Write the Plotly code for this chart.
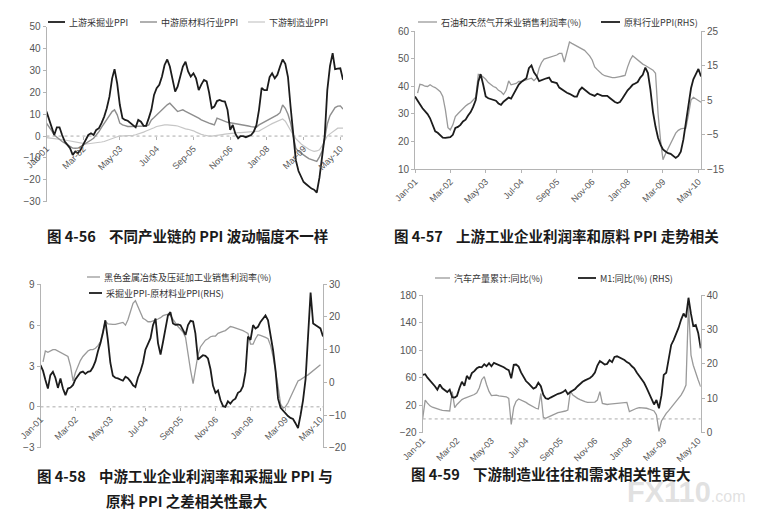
import pandas as pd
import plotly.graph_objects as go

months = pd.date_range("2001-01-01", periods=114, freq="MS")

# 图4-56  PPI by chain segment (%)
upstream_ppi = [
    11.2, 7.4, 3.6, 0.5, 4, 4, 0.5, -2.5, -4, -5.5, -8.6, -7,
    -7.8, -6.3, -4, -1.7, 0.5, 1.3, 0.5, 2.8, 3.6, 5.9, 8.9, 12.7,
    18, 26.4, 30.6, 24, 14.3, 8.2, 7.4, 7, 5.9, 4.7, 4, 7.4,
    6.6, 4.7, 4.7, 8.2, 12, 18.8, 21.9, 23.4, 27.2, 32.5, 35, 31.8,
    25.7, 20.3, 22.6, 27.2, 31.8, 34, 29.5, 27.2, 28.7, 26.4, 21, 23.5,
    25.7, 25, 20, 12.7, 13.5, 16, 16.5, 16, 15.8, 12, 2.8, 5.1,
    1, -1, 0, 0, -0.5, 0, 0.5, 2, 5, 12, 22, 21,
    21, 27, 28.7, 26.4, 28, 31.8, 35, 33, 27, 13.5, 0, -11,
    -16, -19, -21, -22, -23, -24, -24.5, -25.8, -19, -10, 0, 21,
    32, 37.9, 30.6, 30.8, 31, 25.7,
]
midstream_ppi = [
    5.9, 4.4, 2.5, 0.5, -0.6, -1.7, -2.5, -3.2, -4, -4.8, -5.5, -5.6,
    -5.5, -4.8, -4, -3.2, -2.5, -1.8, -1, 0.5, 2, 4, 5.9, 7.5,
    9, 11.2, 12, 9.7, 5.9, 5.1, 4.8, 4.4, 4.4, 4.4, 4.4, 4.4,
    4.4, 4.4, 4.6, 5.1, 7.4, 8.5, 9.7, 11, 12, 13.2, 14.3, 15,
    13.8, 12.5, 11.2, 11.6, 12, 11.3, 10.7, 10.4, 9.5, 8.8, 8.2, 7.4,
    6.8, 6.4, 5.9, 5.5, 5.1, 8.2, 7.7, 7.2, 6.6, 6.3, 6.1, 5.9,
    5.7, 5.6, 5.5, 5.2, 4.8, 4.6, 4.3, 4, 4, 5.1, 5.8, 6.4,
    7, 7.6, 8.2, 9, 9.7, 10.7, 14.2, 12.7, 10, 6, 0, -5.5,
    -7, -8, -8.6, -9.5, -10.3, -10.8, -11.3, -11.6, -9.5, -7, -1, 5.5,
    9.4, 11, 13, 13.7, 13.8, 12.3,
]
downstream_ppi = [
    -0.7, -0.8, -0.9, -1, -1.2, -1.4, -1.6, -1.8, -2, -2.2, -2.5, -2.8,
    -3, -3.3, -3.5, -3.6, -3.5, -3.4, -3.3, -3.1, -2.9, -2.7, -2.5, -2,
    -1.6, -1, -0.6, -0.3, 0, 0, 0, 0, 0, 0.3, 0.6, 0.9,
    1.3, 1.8, 2.3, 2.7, 3.1, 3.8, 4.4, 4.7, 4.9, 5.1, 5.1, 5.1,
    5.1, 4.8, 4.6, 4.1, 3.6, 3.3, 3.1, 2.8, 2.4, 1.8, 1.2, 0.8,
    0.5, 0.2, 0, 0, 0.1, 0.3, 0.5, 0.7, 0.9, 1.1, 1.3, 1.4,
    1.5, 1.6, 1.6, 1.7, 1.7, 1.8, 1.8, 1.9, 2, 2.3, 3, 3.8,
    4.6, 5.1, 5.7, 6.3, 6.8, 7.3, 7.8, 6.8, 4.5, 2.3, 0.5, -1.2,
    -2.6, -3.6, -4.4, -5.3, -6, -6.6, -7, -6.8, -6.3, -4.5, -2.5, 0,
    1, 1.8, 2.8, 3.6, 3.6, 3.6,
]

# 图4-57
oil_gas_margin = [
    None, 37.5, 40.7, 40.5, 40, 39.9, 40.5, 39.9, 39.5, 38.8, 38, 36.3,
    31.5, 25, 24.2, 26, 29, 30, 31, 32, 32.8, 33.5, 34, 35,
    36, 44.3, 44, 43.3, 42.5, 41.3, 40.5, 39.9, 39.5, 38.5, 38, 37,
    38.5, 41.9, 40.5, 40.8, 41, 41.7, 41.7, 42, 42.3, 42.6, 42.9, 42,
    43, 46.5, 48.5, 49.8, 50.1, 50.4, 50.7, 51, 51.3, 51.9, 51.9, 48.7,
    52, 56, 55.5, 55, 54.5, 54, 53.5, 53, 52, 51, 49.5, 47,
    46, 45, 44.3, 43.8, 43.5, 43.3, 43.1, 43.1, 43.2, 43.5, 43.7, 43.9,
    47, 49.5, 51, 50.2, 49.5, 48.8, 48, 47.5, 47, 46.5, 45.8, 44.7,
    30, 20, 13.4, 15.5, 17.5, 19.5, 21.5, 23, 24, 24.5, 24.7, 24.8,
    29.6, 35, 36, 35.3, 34.7, 34.2,
]
raw_ppi = [
    6, 5, 3.8, 2.6, 1.9, 0.9, -0.3, -2, -4.1, -4.5, -5.3, -5.9,
    -6, -6, -5.8, -5.1, -3.1, -2.8, -2.2, -1.2, -0.7, 0.5, 1.5, 3,
    5, 10.3, 12.5, 9.4, 6, 5.5, 5.2, 5, 4.8, 4, 3.6, 4.5,
    5.2, 5.7, 5.4, 6.8, 8, 9.5, 10.2, 10.8, 11.3, 14.2, 15, 13,
    12, 10.5, 10.8, 11.1, 11.3, 11.5, 10.3, 10.1, 9.9, 8.6, 8, 7.5,
    7.1, 6.8, 6.4, 6, 6, 7.8, 8.6, 7.9, 7.4, 6.8, 6.5, 6.2,
    6.8, 6.5, 6.2, 6.2, 6.2, 5.6, 5, 4.4, 4.1, 4.4, 5.5, 6.8,
    7.8, 8.6, 9.4, 9.8, 10.2, 11.5, 12.3, 14.4, 12.8, 8, 1.5, -2.7,
    -6, -8, -9.3, -9.9, -10.4, -10.6, -11.2, -11.8, -11.2, -10, -6.5, -1.5,
    3.5, 8.4, 11, 12.8, 14, 11.8,
]

# 图4-58
steel_margin = [
    None, 3.3, 4.1, 4.0, 4.1, 4.2, 4.2, 4.1, 4.0, 3.9, 3.8, 3.7,
    3.0, 1.9, 2.5, 3.0, 3.4, 3.7, 3.9, 4.1, 4.2, 4.2, 4.3, 4.5,
    4.8, 5.6, 6.3, 6.1, 6.05, 6.05, 6.05, 6.1, 6.2, 6.2, 6.0, 6.4,
    7.0, 7.6, 7.8, 7.4, 6.9, 6.5, 6.4, 6.25, 6.25, 6.3, 6.35, 6.45,
    6.55, 6.7, 6.75, 6.8, 6.7, 6.4, 6.1, 5.9, 5.7, 5.5, 5.1, 3.8,
    2.7, 1.7, 2.8, 3.8, 4.4, 4.7, 4.9, 5.0, 5.15, 5.2, 5.2, 5.4,
    5.5, 5.55, 5.6, 5.75, 5.9, 5.85, 5.8, 5.75, 5.7, 5.6, 5.5, 5.4,
    4.6, 4.6, 5.0, 5.3, 5.25, 5.2, 5.1, 5.0, 4.5, 3.7, 2.7, 1.5,
    0.2, -0.1, 0.0, 0.3, 0.7, 1.1, 1.6, 1.9, 2.0, 2.15, 2.25, 2.35,
    2.5, 2.65, 2.8, 2.95, 3.1, None,
]
mining_minus_raw = [
    5.3, 3.5, 0.8, -1.9, 2.2, 3.2, 1.4, -1.7, 1.2, -1.9, -3.9, -1.9,
    -1.6, -0.8, 0.9, 2.0, 3.0, 3.3, 2.6, 3.2, 3.4, 4.6, 6.5, 9.5,
    12, 15.3, 19, 13, 6, 2, 1.4, 1.2, 0.9, 0.5, 1.7, 1.3,
    0.3, -0.9, -1.4, 1.5, 3.3, 6, 10, 11.6, 13.5, 17.5, 19.5, 12,
    8.5, 12.5, 16, 20.5, 21.5, 18, 17.6, 17.7, 17.5, 16, 14.5, 17.5,
    18.8, 18.6, 15, 7, 7.8, 8.3, 8.1, 7.3, 4, -1, -3.2, -2.5,
    -5.5, -7.3, -7.5, -5.8, -6.5, -5.5, -5, -3.2, -2.7, -1.2, 3.2, 14,
    13, 17.5, 16.5, 17, 18.5, 19.5, 20.5, 19, 14.5, 9.9, 3.5, -5,
    -7.8, -8.7, -9.5, -10.3, -10.9, -11.2, -12.5, -14, -10, -5.5, 1, 16,
    27.5, 18, 17.4, 17, 16.5, 14,
]

# 图4-59
auto_output_yoy = [
    0.8, 27.4, 23, 19, 17, 15.5, 14.4, 13.5, 12.4, 12, 11.5, 11.5,
    39.6, 16.3, 21, 25, 28, 30, 31.5, 32.5, 33.5, 35.5, 38, 45,
    57, 61.4, 50, 40, 33.8, 34.5, 34.5, 33.5, 33.2, 32.7, 32.2, 29.9,
    -8, 17, 25.5, 28.9, 27.5, 25.5, 24, 21.5, 19.5, 17, 15.5, 14.4,
    37, 2.5, 0.8, 2.5, 4.2, 6, 8.1, 9, 10, 10.5, 11.5, 12.9,
    40.5, 34.7, 32, 29.9, 28, 26, 25, 24.1, 24.1, 24.1, 24.5, 27.4,
    39.6, 22.6, 21.5, 21, 21.5, 22, 22.6, 23, 23.5, 24.1, 24.1, 24.1,
    10.5, 12.5, 14.4, 15.5, 16.3, 16.3, 16.3, 15.5, 14.4, 13, 11.5, 5.7,
    -18, -3, 3, 8.1, 12, 16.3, 20.5, 25, 29.5, 34.7, 41, 49.3,
    165.5, 92.8, 78, 66, 56.5, 46.8,
]
m1_yoy = [
    16.8, 17.0, 16, 15.2, 14.6, 13.5, 12.5, 14, 12.9, 12.4, 11.8, 12.5,
    10.3, 10.2, 10.7, 13, 14.8, 13.6, 16.5, 15.5, 17.3, 17.9, 18.7, 19.1,
    19.0, 19.9, 19.3, 20.2, 19.3, 20.3, 20.0, 19.6, 19.3, 19.0, 18.5, 18.2,
    15.8, 19.7, 19.8, 19.2, 17.5, 16, 15, 14.3, 13.5, 12.8, 13.2, 14.5,
    13.5, 11, 10, 9.8, 10.2, 10.6, 11, 11.3, 11.5, 11.8, 12.4, 11.2,
    11.8, 12.3, 12.7, 13.5, 14.2, 14.8, 15.2, 15.5, 15.9, 16.5, 17.5, 19.5,
    20.8, 20.3, 19.8, 20, 21.1, 20.5, 22, 22.2, 21.9, 21.5, 21.1, 20.5,
    20.1, 19.3, 18.7, 17.5, 16.5, 15.5, 14.5, 13, 11.5, 10, 8.2, 9.5,
    7.1, 10.9, 16.8, 17.4, 21, 25.5, 26.9, 28.6, 30.5, 32.8, 34.6, 33.5,
    39.2, 34.5, 31, 31.3, 29, 24.5,
]

W, H = 757, 515
BLACK = "#1c1c1c"
GRAY = "#8e8e8e"
MID = "#9a9a9a"
LIGHT = "#c6c6c6"
AXIS = "#b4b4b4"
TICKS_Y = dict(family="Liberation Sans, Arial, sans-serif", size=10, color="#555")
TICKS_X = dict(family="Liberation Sans, Arial, sans-serif", size=9, color="#555")
LEG_FONT = dict(family="Noto Sans CJK SC, sans-serif", size=9, color="#333")
CAP_FONT = dict(family="Noto Sans CJK SC, sans-serif", size=14.5, color="#1a1a1a")


def xdom(l, r):
    return [l / W, r / W]


def ydom(t, b):
    return [1 - b / H, 1 - t / H]


def zero_pos(dom, rng):
    return dom[0] + (0 - rng[0]) / (rng[1] - rng[0]) * (dom[1] - dom[0])


fig = go.Figure()


def add_line(y, name, color, width, xa, ya):
    fig.add_trace(go.Scatter(
        x=months, y=y, name=name, mode="lines",
        line=dict(color=color, width=width),
        xaxis=xa, yaxis=ya, showlegend=False,
    ))


def legend_entry(name, color, width, x0, x1, y):
    # short Excel-style legend key: line sample + label
    fig.add_shape(type="line", xref="paper", yref="paper",
                  x0=x0 / W, x1=x1 / W, y0=1 - y / H, y1=1 - y / H,
                  line=dict(color=color, width=width))
    fig.add_annotation(text=name, x=(x1 + 2) / W, y=1 - y / H, xref="paper", yref="paper",
                       xanchor="left", yanchor="middle", showarrow=False, font=LEG_FONT)


# panel 1
add_line(downstream_ppi, "下游制造业PPI", LIGHT, 1.2, "x", "y")
add_line(midstream_ppi, "中游原材料行业PPI", GRAY, 1.4, "x", "y")
add_line(upstream_ppi, "上游采掘业PPI", BLACK, 1.8, "x", "y")
legend_entry("上游采掘业PPI", BLACK, 1.8, 48, 65, 22)
legend_entry("中游原材料行业PPI", GRAY, 1.4, 140, 157, 22)
legend_entry("下游制造业PPI", LIGHT, 1.2, 248, 265, 22)

# panel 2
add_line(oil_gas_margin, "石油和天然气开采业销售利润率(%)", MID, 1.3, "x2", "y2")
add_line(raw_ppi, "原料行业PPI(RHS)", BLACK, 1.8, "x2", "y3")
legend_entry("石油和天然气开采业销售利润率(%)", MID, 1.3, 418, 437, 22)
legend_entry("原料行业PPI(RHS)", BLACK, 1.8, 601, 620, 22)

# panel 3
add_line(steel_margin, "黑色金属冶炼及压延加工业销售利润率(%)", MID, 1.3, "x3", "y4")
add_line(mining_minus_raw, "采掘业PPI-原材料业PPI(RHS)", BLACK, 1.8, "x3", "y5")
legend_entry("黑色金属冶炼及压延加工业销售利润率(%)", MID, 1.3, 87, 100, 277)
legend_entry("采掘业PPI-原材料业PPI(RHS)", BLACK, 1.8, 89, 102, 293)

# panel 4
add_line(auto_output_yoy, "汽车产量累计:同比(%)", MID, 1.3, "x4", "y6")
add_line(m1_yoy, "M1:同比(%) (RHS)", BLACK, 1.8, "x4", "y7")
legend_entry("汽车产量累计:同比(%)", MID, 1.3, 435, 450, 278)
legend_entry("M1:同比(%) (RHS)", BLACK, 1.8, 578, 596, 278)

P1 = dict(x=xdom(46.5, 343), y=ydom(26.7, 201.7), r=[-30, 50])
P2 = dict(x=xdom(415, 701), y=ydom(31, 169), r=[10, 60], r2=[-15, 25])
P3 = dict(x=xdom(40.5, 323), y=ydom(284.3, 447.7), r=[-3, 9], r2=[-20, 30])
P4 = dict(x=xdom(422.7, 700.7), y=ydom(295, 432.7), r=[-20, 180], r2=[0, 40])

xbase = dict(
    type="date", range=[months[0], months[-1]], tick0=months[0], dtick="M14",
    tickformat="%b-%y", tickangle=-45, tickfont=TICKS_X, showgrid=False,
    zeroline=False, ticks="outside", ticklen=3, tickcolor=AXIS, automargin=False,
)
ybase = dict(
    showgrid=False, zeroline=False, showline=True, linecolor=AXIS, linewidth=1,
    ticks="outside", ticklen=3, tickcolor=AXIS, tickfont=TICKS_Y, automargin=False,
)

fig.update_layout(
    xaxis=dict(xbase, domain=P1["x"], anchor="free", position=zero_pos(P1["y"], P1["r"]), showline=False),
    yaxis=dict(ybase, domain=P1["y"], range=P1["r"], dtick=10, anchor="x"),
    xaxis2=dict(xbase, domain=P2["x"], anchor="y2", showline=True, linecolor=AXIS),
    yaxis2=dict(ybase, domain=P2["y"], range=P2["r"], dtick=10, anchor="x2"),
    yaxis3=dict(ybase, range=P2["r2"], dtick=10, tick0=-15, overlaying="y2", side="right", anchor="x2"),
    xaxis3=dict(xbase, domain=P3["x"], anchor="free", position=zero_pos(P3["y"], P3["r"]), showline=False),
    yaxis4=dict(ybase, domain=P3["y"], range=P3["r"], dtick=3, anchor="x3"),
    yaxis5=dict(ybase, range=P3["r2"], dtick=10, overlaying="y4", side="right", anchor="x3"),
    xaxis4=dict(xbase, domain=P4["x"], anchor="y6", showline=False, ticks=""),
    yaxis6=dict(ybase, domain=P4["y"], range=P4["r"], tick0=-20, dtick=40, anchor="x4"),
    yaxis7=dict(ybase, range=P4["r2"], dtick=10, overlaying="y6", side="right", anchor="x4"),
)

zero_lines = [("x domain", "y"), ("x3 domain", "y4"), ("x4 domain", "y6")]
for xr, yr in zero_lines:
    fig.add_shape(type="line", xref=xr, yref=yr, x0=0, x1=1, y0=0, y1=0,
                  line=dict(color="#aaaaaa", width=1, dash="dot"), layer="below")

sp = "\u00a0" * 4
captions = [
    ("图 4-56" + sp + "不同产业链的 PPI 波动幅度不一样", 187, 235),
    ("图 4-57" + sp + "上游工业企业利润率和原料 PPI 走势相关", 556, 235),
    ("图 4-58" + sp + "中游工业企业利润率和采掘业 PPI 与", 185, 475),
    ("原料 PPI 之差相关性最大", 187, 500),
    ("图 4-59" + sp + "下游制造业往往和需求相关性更大", 551, 473),
]
for text, cx, cy in captions:
    fig.add_annotation(text="<b>" + text + "</b>", x=cx / W, y=1 - cy / H, xref="paper", yref="paper",
                       showarrow=False, font=CAP_FONT, xanchor="center", yanchor="middle")

fig.add_annotation(
    text='<b>FX110</b><span style="font-size:16px">.com</span>',
    x=686 / W, y=1 - 492 / H, xref="paper", yref="paper", showarrow=False,
    font=dict(family="Liberation Sans, Arial, sans-serif", size=29, color="rgba(200,200,200,0.55)"),
    xanchor="center", yanchor="middle",
)

fig.update_layout(
    width=W, height=H, margin=dict(l=0, r=0, t=0, b=0),
    paper_bgcolor="white", plot_bgcolor="white", showlegend=False,
)

fig.write_html("out.html", config={"displayModeBar": False},
               post_script="document.body.style.margin='0';")
